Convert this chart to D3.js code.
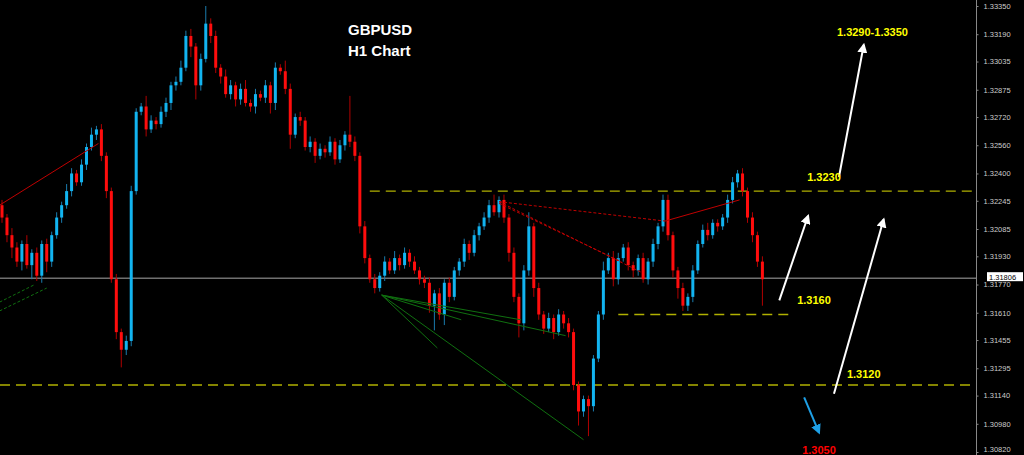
<!DOCTYPE html>
<html><head><meta charset="utf-8">
<script src="https://cdn.jsdelivr.net/npm/d3@7"></script>
<style>body{margin:0;background:#000}svg{display:block}</style>
</head><body><svg id="c" width="1024" height="455"></svg>
<script>
// closes (open = previous close)
const closes = [
 1.3215,1.3205,1.3198,1.3190,1.3200,1.3188,1.3195,1.3182,1.3200,1.3190,
 1.3205,1.3215,1.3222,1.3230,1.3240,1.3235,1.3245,1.3255,1.3262,1.3265,
 1.3250,1.3230,1.3180,1.3150,1.3140,1.3145,1.3230,1.3275,
 1.3278,1.3265,1.3270,1.3268,1.3275,1.3280,1.3290,1.3292,1.3300,
 1.3318,1.3312,1.3290,1.3305,1.3325,1.3318,
 1.3300,1.3295,1.3285,1.3290,1.3282,1.3288,
 1.3280,1.3278,1.3285,1.3283,1.3290,1.3280,
 1.3300,1.3298,1.3288,1.3262,1.3272,1.3270,
 1.3255,1.3258,1.3250,1.3254,1.3252,1.3258,1.3248,1.3256,1.3262,1.3258,
 1.3250,1.3210,1.3192,1.3180,
 1.3175,1.3182,1.3190,1.3185,1.3192,1.3188,1.3195,1.3190,1.3185,1.3180,
 1.3178,1.3165,1.3172,1.3160,
 1.3178,1.3170,1.3185,1.3190,
 1.3200,1.3195,1.3205,1.3210,1.3215,1.3222,1.3218,1.3225,
 1.3215,1.3195,1.3170,
 1.3155,1.3185,1.3210,1.3175,1.3160,
 1.3152,1.3158,1.3150,1.3160,1.3155,1.3150,
 1.3120,1.3105,1.3112,1.3108,
 1.3135,1.3160,1.3185,1.3192,
 1.3180,1.3192,1.3198,1.3188,1.3185,1.3192,1.3180,1.3190,
 1.3200,1.3210,1.3225,
 1.3205,1.3185,1.3175,1.3165,1.3170,
 1.3185,1.3200,1.3208,1.3205,1.3212,1.3210,
 1.3215,1.3225,1.3235,1.3240,1.3230,
 1.3215,1.3205,1.3190,1.3180
];
const firstOpen = 1.3222;
// wick lengths in pips above body top / below body bottom
const wickUp = [
 3,2,4,3,2,5,2,3,2,3, 2,3,2,4,3,2,3,2,4,2, 3,2,2,3,2,3,3,2,
 2,6,3,2,3,3,2,3,4, 3,4,2,3,10,3, 3,2,4,3,2,3, 5,2,3,2,3,2,
 3,2,6,3,2,3, 2,3,2,3,2,3,2,3,2,22, 3,2,3,2, 3,2,3,2,4,2,3,2,3,2,
 2,3,2,3, 2,3,2,2, 3,2,3,2,3,3,6,2, 3,2,3, 2,3,8,2,3, 2,3,2,3,2,3,
 2,2,2,2, 2,2,5,3, 4,3,2,3,2,2,3,2, 3,2,3, 3,2,2,3,2, 3,2,3,4,2,2,
 2,3,3,2,3, 2,3,2,3
];
const wickDn = [
 3,4,6,3,5,2,8,3,4,6, 3,2,3,2,3,2,2,3,2,3, 3,4,2,4,10,3,3,2,
 2,4,2,3,2,3,4,3,2, 2,6,8,3,2,4, 3,4,2,3,4,3, 2,3,4,2,3,6,
 4,2,3,8,2,3, 2,3,4,2,3,2,3,2,3,3, 3,4,3,2, 3,2,3,2,2,3,2,3,2,3,
 3,4,14,3, 6,3,2,3, 3,4,2,3,2,3,2,3, 3,5,3, 8,4,3,5,3, 3,2,4,2,3,3,
 3,8,3,17, 3,2,3,2, 4,3,2,3,4,3,2,3, 3,3,3, 3,4,6,3,3, 3,2,2,3,2,3,
 2,3,2,3,3, 3,4,3,15
];
const yTicks = [1.33350,1.33190,1.33035,1.32875,1.32720,1.32560,1.32400,1.32245,1.32085,1.31930,1.31770,1.31610,1.31455,1.31295,1.31140,1.30980,1.30820];
const curPrice = 1.31806;
const levels = [
 {p:1.3230, x0:74, x1:null},
 {p:1.3160, x0:124, x1:159},
 {p:1.3120, x0:-1, x1:null}
];
const labels = [
 {t:"1.3290-1.3350", i:168, p:1.3318, c:"#ffff00"},
 {t:"1.3230", i:162, p:1.3236, c:"#ffff00"},
 {t:"1.3160", i:160, p:1.3166, c:"#ffff00"},
 {t:"1.3120", i:170, p:1.3124, c:"#ffff00"},
 {t:"1.3050", i:161, p:1.3081, c:"#ff0000"}
];
// arrows [i0,p0,i1,p1,color]
const arrows = [
 [156.4,1.3168,162.2,1.3216,"#fff"],
 [167.4,1.3115,177.4,1.3214,"#fff"],
 [168.4,1.3238,173.4,1.3313,"#fff"],
 [161.4,1.3113,164.4,1.3093,"#1ea0e6"]
];
// trend lines [i0,p0,i1,p1,color,dashed]
const trends = [
 [-0.5,1.3222,19.4,1.3257,"#c00000",false],
 [133.4,1.3213,148.4,1.3225,"#c00000",false],
 [100,1.3224,133.4,1.3213,"#c00000",true],
 [100,1.3224,128.6,1.3184,"#c00000",true],
 [100,1.3223,124.6,1.3190,"#c00000",true],
 [76.4,1.3171,87.6,1.3141,"#107010",false],
 [76.4,1.3171,104.4,1.3157,"#107010",false],
 [76.4,1.3171,113.4,1.3148,"#107010",false],
 [76.4,1.3171,92.4,1.3157,"#107010",false],
 [76.4,1.3171,117,1.3089,"#107010",false],
 [-0.5,1.3167,6.6,1.3177,"#107010",true],
 [-0.5,1.3162,9,1.3175,"#107010",true]
];

const W = 1024, H = 455, plotR = 976;
const svg = d3.select('#c');
svg.append('rect').attr('width', W).attr('height', H).attr('fill', '#000');

const x = d3.scaleLinear().domain([0, 1]).range([2, 6.97]);
const xi = i => x(0) + i * (x(1) - x(0));
const y = d3.scaleLinear().domain([1.30820, 1.33350]).range([452, 6]);

const candles = closes.map((c, i) => {
    const o = i === 0 ? firstOpen : closes[i - 1];
    return {i, o, c, h: Math.max(o, c) + wickUp[i] / 10000, l: Math.min(o, c) - wickDn[i] / 10000};
});

// current price line
svg.append('line').attr('x1', 0).attr('x2', plotR).attr('y1', y(curPrice)).attr('y2', y(curPrice))
    .attr('stroke', '#707070').attr('stroke-width', 1.5);

// levels
levels.forEach(l => {
    svg.append('line')
        .attr('x1', l.x0 < 0 ? 0 : xi(l.x0)).attr('x2', l.x1 === null ? plotR : xi(l.x1))
        .attr('y1', y(l.p)).attr('y2', y(l.p))
        .attr('stroke', '#b0b000').attr('stroke-width', 1.3).attr('stroke-dasharray', '10,6');
});

// candles
const g = svg.append('g');
g.selectAll('.wick').data(candles).enter().append('line')
    .attr('x1', d => xi(d.i)).attr('x2', d => xi(d.i))
    .attr('y1', d => y(d.h)).attr('y2', d => y(d.l))
    .attr('stroke', d => d.c >= d.o ? '#1a7cae' : '#b00000').attr('stroke-width', 1);
g.selectAll('.body').data(candles).enter().append('rect')
    .attr('x', d => xi(d.i) - 1.5).attr('width', 3)
    .attr('y', d => y(Math.max(d.o, d.c)))
    .attr('height', d => Math.max(1, Math.abs(y(d.o) - y(d.c))))
    .attr('fill', d => d.c >= d.o ? '#12b4f0' : '#ff0d0d');

// trend lines
trends.forEach(t => {
    svg.append('line').attr('x1', xi(t[0])).attr('y1', y(t[1])).attr('x2', xi(t[2])).attr('y2', y(t[3]))
        .attr('stroke', t[4]).attr('stroke-width', 1).attr('stroke-dasharray', t[5] ? '3,2' : null);
});

// arrows
const defs = svg.append('defs');
arrows.forEach((a, k) => {
    defs.append('marker').attr('id', 'ah' + k).attr('viewBox', '0 0 10 10').attr('refX', 8).attr('refY', 5)
        .attr('markerWidth', 5).attr('markerHeight', 5).attr('orient', 'auto')
        .append('path').attr('d', 'M0,0L10,5L0,10Z').attr('fill', a[4]);
    svg.append('line').attr('x1', xi(a[0])).attr('y1', y(a[1])).attr('x2', xi(a[2])).attr('y2', y(a[3]))
        .attr('stroke', a[4]).attr('stroke-width', 2).attr('marker-end', `url(#ah${k})`);
});

// labels
labels.forEach(l => {
    svg.append('text').attr('x', xi(l.i)).attr('y', y(l.p)).text(l.t)
        .attr('fill', l.c).attr('font-family', 'Liberation Sans, Arial').attr('font-weight', 'bold').attr('font-size', 11);
});

// title
svg.append('text').attr('x', 348).attr('y', 35).text('GBPUSD').attr('fill', '#fff')
    .attr('font-family', 'Liberation Sans, Arial').attr('font-weight', 'bold').attr('font-size', 15);
svg.append('text').attr('x', 348).attr('y', 56).text('H1 Chart').attr('fill', '#fff')
    .attr('font-family', 'Liberation Sans, Arial').attr('font-weight', 'bold').attr('font-size', 15);

// axis
svg.append('line').attr('x1', plotR + 0.5).attr('x2', plotR + 0.5).attr('y1', 0).attr('y2', H)
    .attr('stroke', '#888').attr('stroke-width', 1);
const ax = svg.append('g').attr('transform', `translate(${plotR + 0.5},0)`)
    .call(d3.axisRight(y).tickValues(yTicks).tickFormat(d3.format('.5f')).tickSize(2).tickPadding(5));
ax.select('.domain').remove();
ax.selectAll('line').attr('stroke', '#888');
ax.selectAll('text').attr('fill', '#ccc').attr('font-family', 'Liberation Sans, Arial').attr('font-size', 7.5)
    .attr('dy', d => d === yTicks[yTicks.length - 1] ? '-0.1em' : '0.32em');

svg.append('rect').attr('x', plotR + 11).attr('y', y(curPrice) - 6).attr('width', 36).attr('height', 9).attr('fill', '#fff');
svg.append('text').attr('x', plotR + 13).attr('y', y(curPrice) + 1.5).text(d3.format('.5f')(curPrice))
    .attr('fill', '#000').attr('font-family', 'Liberation Sans, Arial').attr('font-size', 7.5);
</script></body></html>
